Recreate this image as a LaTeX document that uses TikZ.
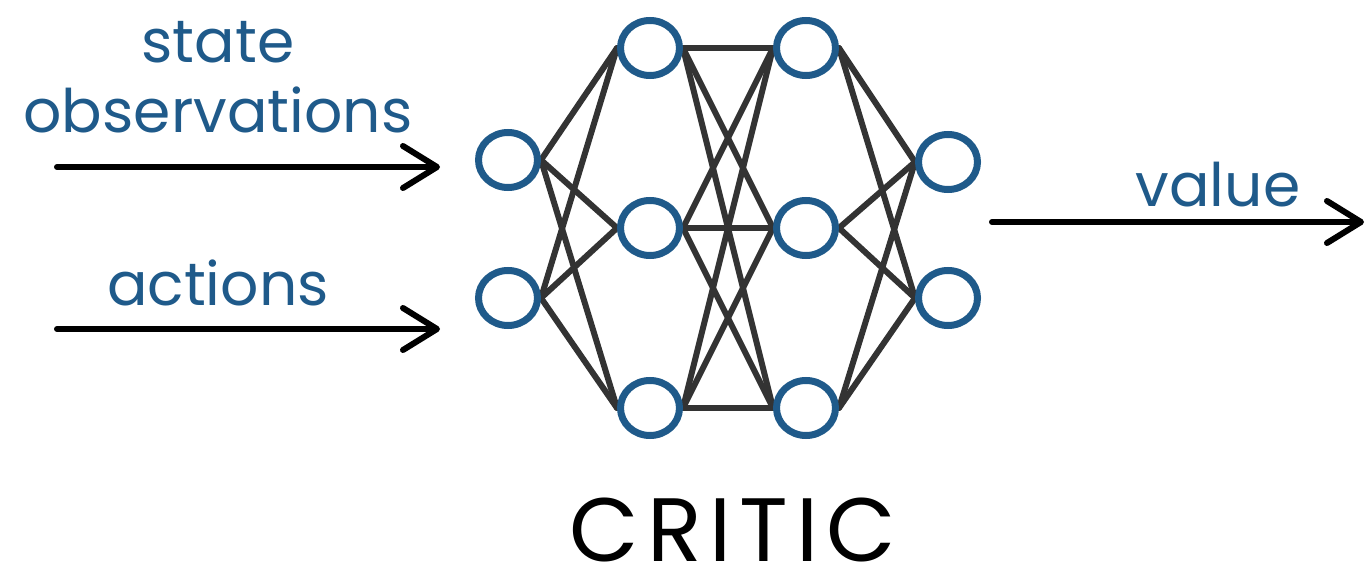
\documentclass[tikz,border=0pt]{standalone}
\usepackage{fontspec}
\setmainfont{Poppins}
\usetikzlibrary{arrows.meta,shapes.geometric,backgrounds}
\definecolor{nnblue}{HTML}{1F5A8A}
\definecolor{edgegray}{HTML}{333333}
\tikzset{
  neuron/.style={ellipse,draw=nnblue,line width=7pt,fill=white,minimum width=59pt,minimum height=55pt,inner sep=0pt},
  synapse/.style={draw=edgegray,line width=6pt,line cap=round},
  flowarrow/.style={draw=black,line width=6pt,line cap=round,-{Straight Barb[length=34pt,width=42pt,line cap=round,line join=round]}},
  lbl/.style={text=nnblue,font=\fontsize{60}{66}\selectfont,anchor=base,inner sep=0pt},
  title/.style={text=black,font=\fontsize{90}{94}\selectfont,anchor=base,inner sep=0pt}
}
\begin{document}
\begin{tikzpicture}[x=1pt,y=-1pt]
\useasboundingbox (0,0) rectangle (1369,575);
% neurons
\node[neuron] (a1) at (508,160) {};
\node[neuron] (a2) at (508,298) {};
\node[neuron] (b1) at (650,48) {};
\node[neuron] (b2) at (650,228) {};
\node[neuron] (b3) at (650,408) {};
\node[neuron] (c1) at (806,48) {};
\node[neuron] (c2) at (806,228) {};
\node[neuron] (c3) at (806,408) {};
\node[neuron] (d1) at (948,162) {};
\node[neuron] (d2) at (948,298) {};
% edges
\begin{scope}[on background layer]
\foreach \s in {a1,a2}{\foreach \t in {b1,b2,b3}{\draw[synapse] (\s.east) -- (\t.west);}}
\foreach \s in {b1,b2,b3}{\foreach \t in {c1,c2,c3}{\draw[synapse] (\s.east) -- (\t.west);}}
\foreach \s in {c1,c2,c3}{\foreach \t in {d1,d2}{\draw[synapse] (\s.east) -- (\t.west);}}
\end{scope}
% arrows
\coordinate (s0) at (57,167);
\coordinate (s1) at (440,167);
\coordinate (t0) at (57,329);
\coordinate (t1) at (440,329);
\coordinate (v0) at (992,222);
\coordinate (v1) at (1364,222);
\draw[flowarrow] (s0) -- (s1);
\draw[flowarrow] (t0) -- (t1);
\draw[flowarrow] (v0) -- (v1);
% labels
\node[lbl] (lstate) at (218,63) {state};
\node[lbl] (lobs) at (218,133) {observations};
\node[lbl] (lact) at (218,305) {actions};
\node[lbl] (lval) at (1218,207) {value};
\node[title] (crit) at (733,561) {C\kern8pt R\kern8pt I\kern8pt T\kern8pt I\kern8pt C};
\end{tikzpicture}
\end{document}
